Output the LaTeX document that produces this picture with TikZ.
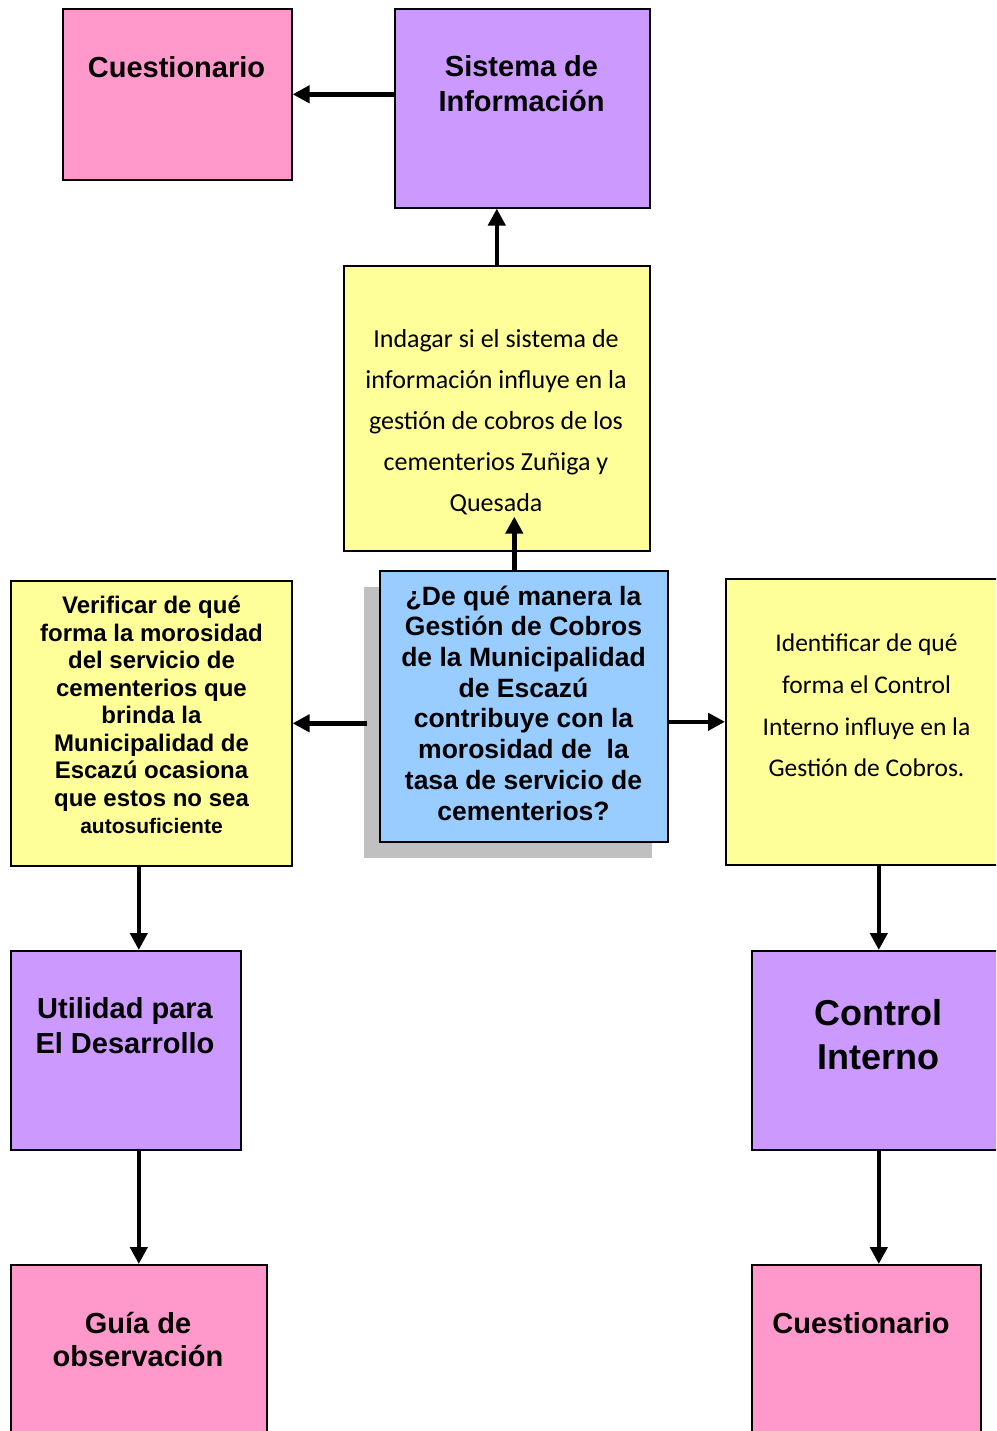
\documentclass[tikz,border=0pt]{standalone}
\usepackage{fontspec}
\setmainfont{Liberation Sans}
\newfontfamily\calibri{Carlito}
\usetikzlibrary{arrows.meta,positioning,calc,shadows}
\definecolor{Pink}{HTML}{FF99CC}
\definecolor{Lilac}{HTML}{CC99FF}
\definecolor{Lemon}{HTML}{FFFF99}
\definecolor{Sky}{HTML}{99CCFF}
\definecolor{Shade}{HTML}{C0C0C0}
\tikzset{box/.style={draw=black,line width=1.6pt,anchor=north west,inner sep=0pt},
  pinkbox/.style={box,fill=Pink},
  lilacbox/.style={box,fill=Lilac},
  yellowbox/.style={box,fill=Lemon},
  bluebox/.style={box,fill=Sky,drop shadow={shadow xshift=-16pt,shadow yshift=-16pt,
      fill=Shade,opacity=1}},
  boldtxt/.style={align=center,inner sep=0pt,font=\bfseries\fontsize{29}{35}\selectfont},
  plaintxt/.style={align=center,inner sep=0pt,font=\calibri\fontsize{26}{41}\selectfont},
  edge/.style={-{Triangle[length=17pt,width=17pt]},line width=4.5pt}}

\begin{document}
\begin{tikzpicture}[x=1pt,y=-1pt]
    \path[use as bounding box] (0,0) rectangle (996,1431);
    \clip (0,0) rectangle (996,1431);
    \node[pinkbox,minimum width=229pt,minimum height=171pt] (cuest1) at (62,8) {};
    \node[boldtxt] (cuest1t) at (176.5,67) {Cuestionario};
    \node[lilacbox,minimum width=255pt,minimum height=199pt] (sistema) at (394,8) {};
    \node[boldtxt] (sistemat) at (521.5,84) {Sistema de\\Información};
    \node[yellowbox,minimum width=306pt,minimum height=285pt] (indagar) at (343,265) {};
    \node[plaintxt] (indagart) at (496,422)
      {Indagar si el sistema de\\información influye en la\\gestión de cobros de los\\cementerios Zuñiga y\\Quesada};
    \node[bluebox,minimum width=288pt,minimum height=271pt] (pregunta) at (379,570) {};
    \node[boldtxt,font=\bfseries\fontsize{26.5}{30.7}\selectfont] (preguntat) at (523.5,703)
      {¿De qué manera la\\Gestión de Cobros\\de la Municipalidad\\de Escazú\\contribuye con la\\morosidad de\ \ la\\tasa de servicio de\\cementerios?};
    \node[yellowbox,minimum width=281pt,minimum height=285pt] (verificar) at (10,580) {};
    \node[boldtxt,font=\bfseries\fontsize{24}{27.5}\selectfont] (verificart) at (151.5,715)
      {Verificar de qué\\forma la morosidad\\del servicio de\\cementerios que\\brinda la\\Municipalidad de\\Escazú ocasiona\\que estos no sea\\{\fontsize{21}{27.5}\selectfont autosuficiente}};
    \node[yellowbox,minimum width=306pt,minimum height=286pt] (identificar) at (725,578) {};
    \node[plaintxt,font=\calibri\fontsize{25.5}{41.7}\selectfont] (identificart) at (866.5,705.5)
      {Identificar de qué\\forma el Control\\Interno influye en la\\Gestión de Cobros.};
    \node[lilacbox,minimum width=230pt,minimum height=199pt] (utilidad) at (10,950) {};
    \node[boldtxt] (utilidadt) at (125,1026) {Utilidad para\\El Desarrollo};
    \node[lilacbox,minimum width=254pt,minimum height=199pt] (control) at (751,950) {};
    \node[boldtxt,font=\bfseries\fontsize{36}{44}\selectfont] (controlt) at (878,1035)
      {Control\\Interno};
    \node[pinkbox,minimum width=256pt,minimum height=200pt] (guia) at (10,1264) {};
    \node[boldtxt,font=\bfseries\fontsize{29}{33}\selectfont] (guiat) at (138,1339)
      {Guía de\\observación};
    \node[pinkbox,minimum width=229pt,minimum height=200pt] (cuest2) at (751,1264) {};
    \node[boldtxt] (cuest2t) at (861,1323) {Cuestionario};
    \draw[edge] (cuest1.east -| sistema.west) -- (cuest1.east);
    \draw[edge] (indagar.north) -- (indagar.north |- sistema.south);
    \draw[edge] ([xshift=-9.5pt]pregunta.north) -- ([xshift=-9.5pt,yshift=35pt]pregunta.north |- indagar.south);
    \draw[edge] ([xshift=-12pt]pregunta.west |- verificar.east) -- (verificar.east);
    \draw[edge] (pregunta.east |- identificar.west) -- (identificar.west);
    \draw[edge] (verificar.south -| guia.north) -- (utilidad.north -| guia.north);
    \draw[edge] (utilidad.south -| guia.north) -- (guia.north);
    \draw[edge] (identificar.south -| control.north) -- (control.north);
    \draw[edge] (control.south) -- (control.south |- cuest2.north);
  \end{tikzpicture}
\end{document}
